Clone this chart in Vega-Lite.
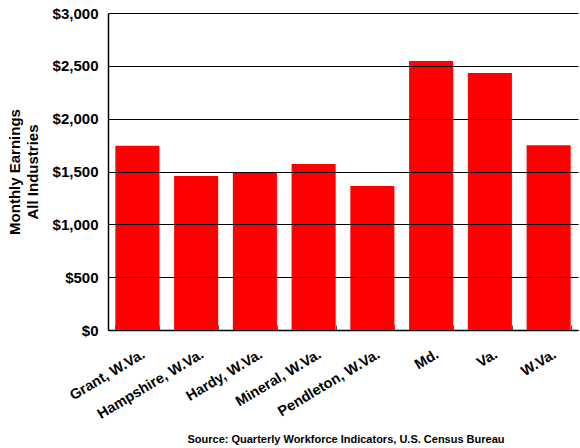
{
  "$schema": "https://vega.github.io/schema/vega-lite/v6.json",
  "autosize": {"type": "none"},
  "width": 470,
  "height": 317,
  "padding": {"left": 108, "top": 13, "right": 2, "bottom": 118},
  "background": "white",
  "config": {
    "view": {"stroke": null},
    "font": "Liberation Sans"
  },
  "title": {
    "text": "Source: Quarterly Workforce Indicators, U.S. Census Bureau",
    "orient": "bottom",
    "anchor": "middle",
    "font": "Liberation Sans",
    "fontSize": 11,
    "fontWeight": "bold",
    "color": "black",
    "offset": 13,
    "dx": 3
  },
  "data": {
    "values": [
      {"area": "Grant, W.Va.", "earnings": 1744},
      {"area": "Hampshire, W.Va.", "earnings": 1457},
      {"area": "Hardy, W.Va.", "earnings": 1495},
      {"area": "Mineral, W.Va.", "earnings": 1571},
      {"area": "Pendleton, W.Va.", "earnings": 1363},
      {"area": "Md.", "earnings": 2546},
      {"area": "Va.", "earnings": 2432},
      {"area": "W.Va.", "earnings": 1748}
    ]
  },
  "mark": {"type": "bar", "color": "#FF0000"},
  "encoding": {
    "x": {
      "field": "area",
      "type": "nominal",
      "sort": null,
      "scale": {"paddingInner": 0.25, "paddingOuter": 0.125},
      "axis": {
        "title": null,
        "labelAngle": -31,
        "labelAlign": "right",
        "labelBaseline": "middle",
        "labelFont": "Liberation Sans",
        "labelFontSize": 14.5,
        "labelFontWeight": "bold",
        "labelColor": "black",
        "labelPadding": 28,
        "labelOffset": 6,
        "domainColor": "black",
        "domainWidth": 1.5,
        "ticks": true,
        "tickBand": "extent",
        "tickSize": -5,
        "tickColor": "#555555",
        "tickWidth": 1
      }
    },
    "y": {
      "field": "earnings",
      "type": "quantitative",
      "scale": {"domain": [0, 3000], "nice": false},
      "axis": {
        "title": ["Monthly Earnings", "All Industries"],
        "titleFont": "Liberation Sans",
        "titleFontSize": 15,
        "titleFontWeight": "bold",
        "titleColor": "black",
        "titlePadding": 12,
        "titleLineHeight": 18,
        "values": [0, 500, 1000, 1500, 2000, 2500, 3000],
        "format": "$,.0f",
        "labelFont": "Liberation Sans",
        "labelFontSize": 15,
        "labelFontWeight": "bold",
        "labelColor": "black",
        "labelPadding": 10,
        "ticks": false,
        "grid": true,
        "gridColor": "black",
        "gridWidth": 1,
        "domainColor": "black",
        "domainWidth": 1.5,
        "zindex": 1
      }
    }
  }
}
